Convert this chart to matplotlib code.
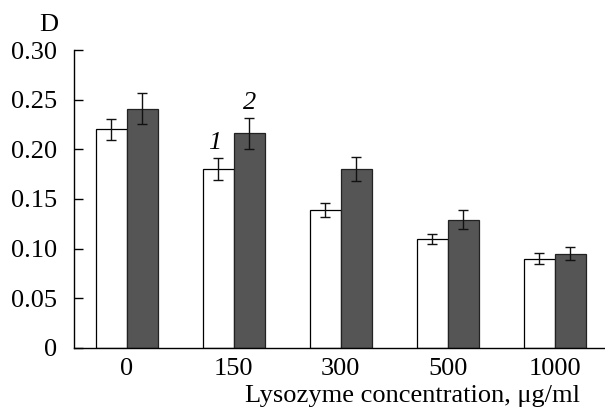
import matplotlib.pyplot as plt
import numpy as np

plt.rcParams['font.family'] = ['Liberation Serif', 'DejaVu Serif']

# data
concentrations = ["0", "150", "300", "500", "1000"]
series1 = [0.220, 0.180, 0.139, 0.110, 0.090]
series1_err = [0.011, 0.011, 0.007, 0.005, 0.0055]
series2 = [0.241, 0.216, 0.180, 0.129, 0.095]
series2_err = [0.016, 0.016, 0.012, 0.0095, 0.0065]

fig = plt.figure(figsize=(6.05, 4.16), dpi=100)
ax = fig.add_axes([0.1223, 0.1635, 0.8777, 0.7163])

x = np.arange(len(concentrations))
w = 0.29
ax.bar(x - w / 2, series1, w, color="white", edgecolor="black", linewidth=0.9,
       yerr=series1_err, capsize=3.5, error_kw=dict(elinewidth=1.0, capthick=1.0, ecolor="#111111"))
ax.bar(x + w / 2, series2, w, color="#555555", edgecolor="#222222", linewidth=0.9,
       yerr=series2_err, capsize=3.5, error_kw=dict(elinewidth=1.0, capthick=1.0, ecolor="#111111"))

# series labels above the 150 group
ax.text(x[1] - w / 2 - 0.03, series1[1] + series1_err[1] + 0.004, "1", style="italic",
        fontsize=19, ha="center", va="bottom")
ax.text(x[1] + w / 2, series2[1] + series2_err[1] + 0.004, "2", style="italic",
        fontsize=19, ha="center", va="bottom")

ax.set_xlim(-0.495, 4.47)
ax.set_ylim(0, 0.30)
ax.set_yticks([0, 0.05, 0.10, 0.15, 0.20, 0.25, 0.30])
ax.set_yticklabels(["0", "0.05", "0.10", "0.15", "0.20", "0.25", "0.30"])
ax.set_xticks(x)
ax.set_xticklabels(concentrations)
ax.tick_params(axis="y", direction="in", length=6.5, width=1.0, pad=12.5, labelsize=19)
ax.tick_params(axis="x", length=0, pad=7, labelsize=19)
for s in ["top", "right"]:
    ax.spines[s].set_visible(False)
ax.spines["left"].set_linewidth(1.0)
ax.spines["bottom"].set_linewidth(1.0)

fig.text(0.081, 0.94, "D", fontsize=19, ha="center", va="center")
fig.text(0.958, 0.047, "Lysozyme concentration, μg/ml", fontsize=19, ha="right", va="center")

fig.savefig("out.png", dpi=100)
